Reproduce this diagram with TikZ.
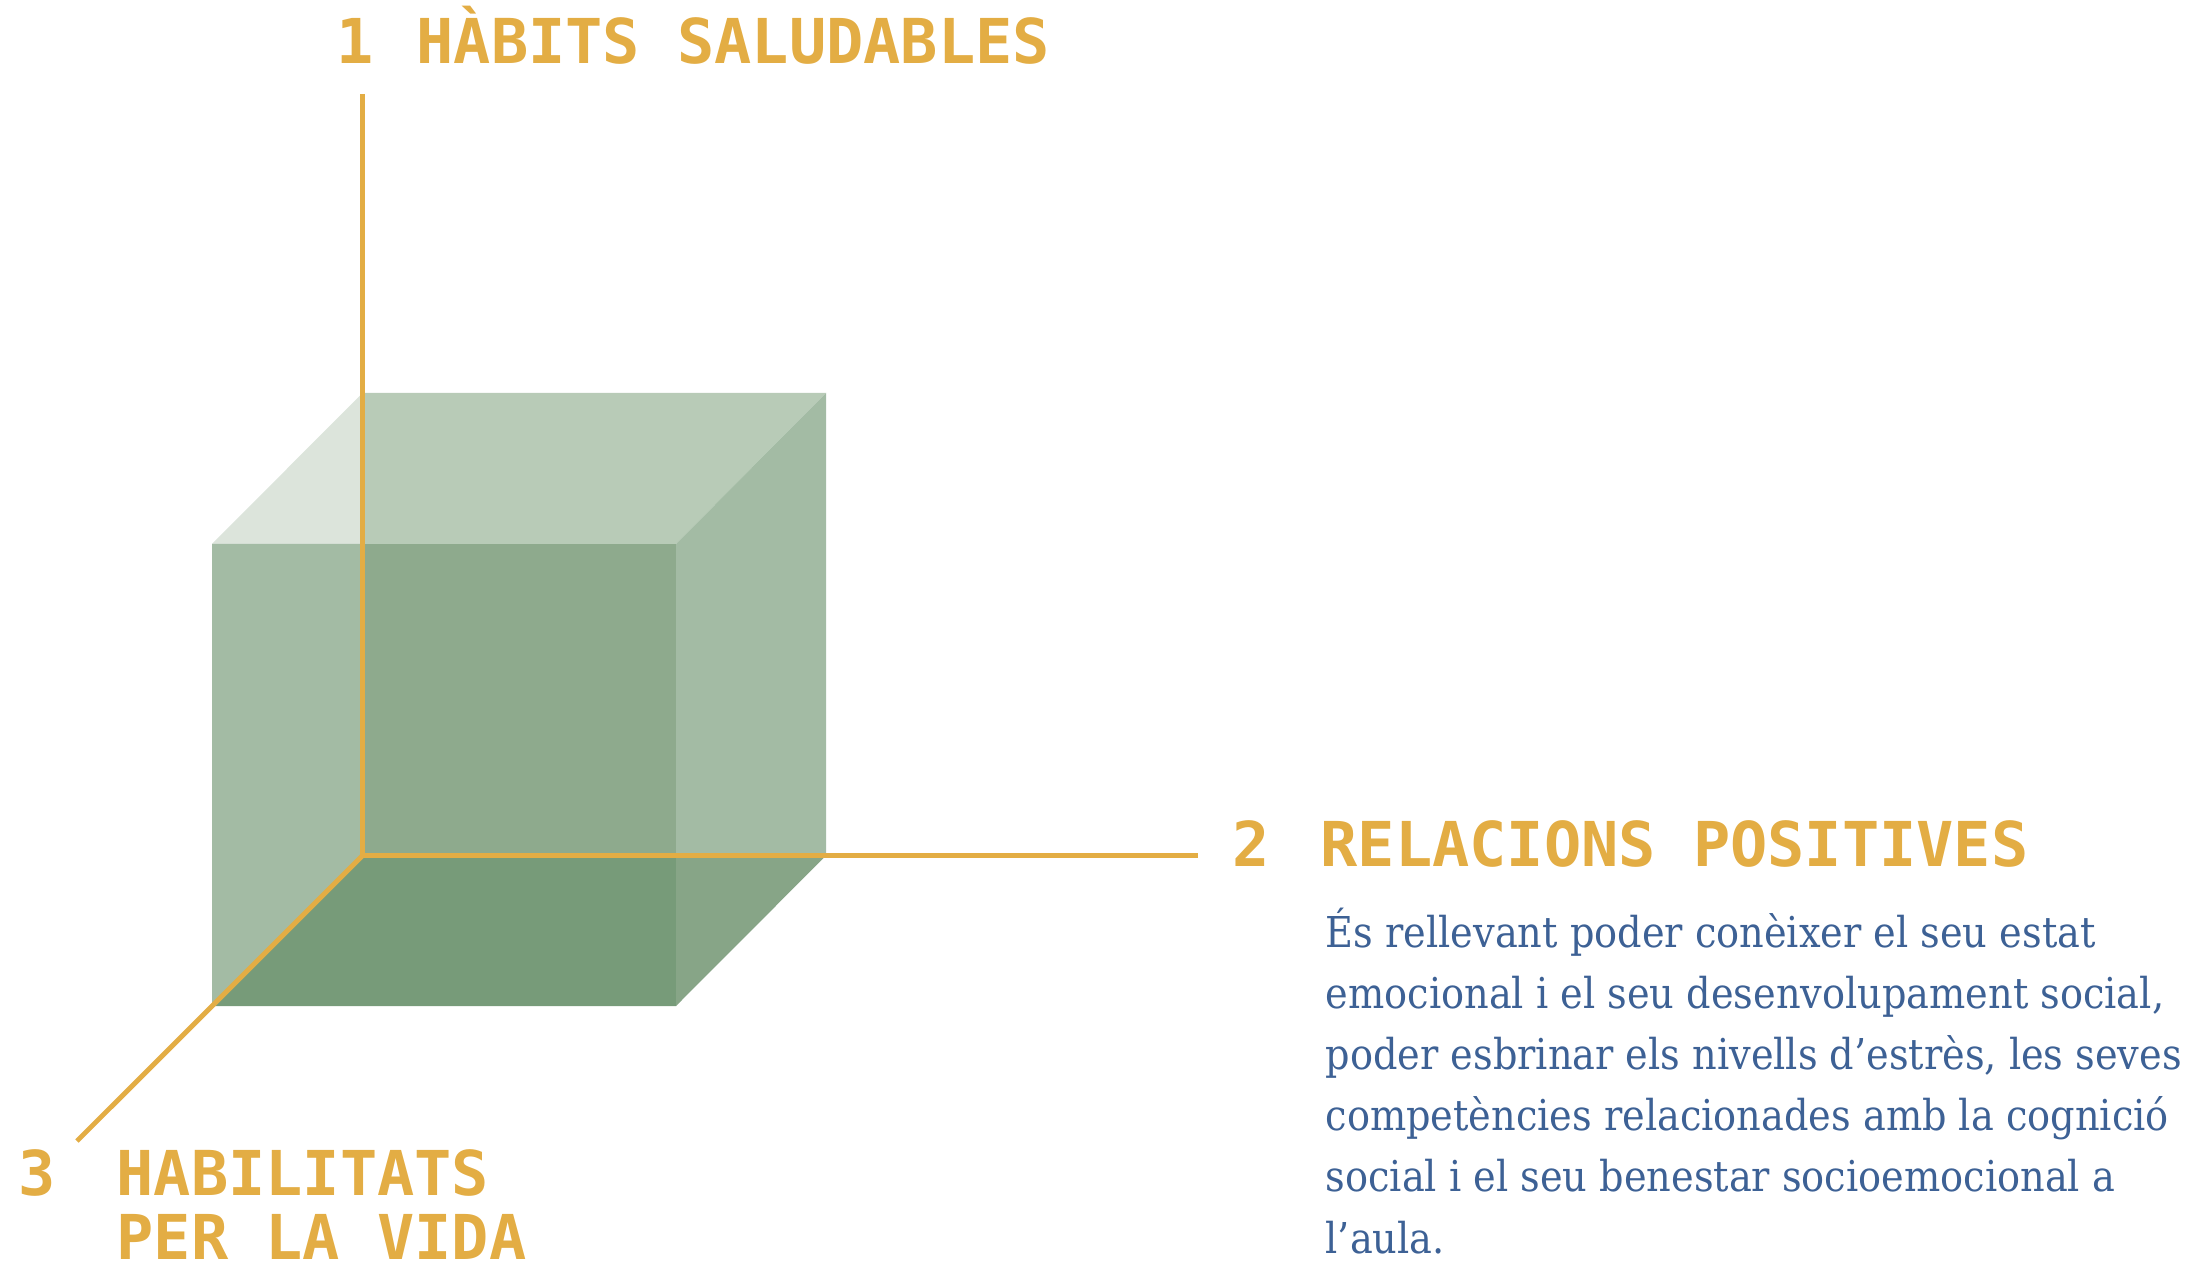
\documentclass[tikz,border=0pt]{standalone}
\usepackage{fontspec}
\usepackage{xcolor}
\usepackage{tikz}
\usetikzlibrary{positioning,calc}

\newfontfamily\headfont{DejaVu Sans Mono}
\newfontfamily\bodyfont{DejaVu Serif Condensed}

\definecolor{ochre}{HTML}{E3AD44}
\definecolor{bodyblue}{HTML}{3D6195}
\definecolor{topL}{HTML}{DCE4DB}
\definecolor{topR}{HTML}{B8CBB7}
\definecolor{sideG}{HTML}{A3BBA4}
\definecolor{frontG}{HTML}{8EAA8D}
\definecolor{bottomG}{HTML}{779B79}
\definecolor{bottomR}{HTML}{87A587}

\tikzset{
  axisline/.style={draw=ochre, line width=1.4pt},
  numtxt/.style={anchor=base west, inner sep=0pt, text=ochre, font=\headfont\bfseries\fontsize{17.6}{20}\selectfont},
  headtxt/.style={numtxt},
  bodytxt/.style={anchor=base west, inner sep=0pt, text=bodyblue, font=\bodyfont\fontsize{12.1}{17}\selectfont}
}

\begin{document}
\begin{tikzpicture}
    \useasboundingbox (0,0) rectangle (21.92,12.70);

    % Cube, faces seen through one another
    \fill[topL] (2.12,7.26) -- (3.625,8.77) -- (3.625,7.26) -- cycle;
    \fill[topR] (3.625,8.77) -- (8.26,8.77) -- (6.76,7.26) -- (3.625,7.26) -- cycle;
    \fill[sideG] (2.12,7.26) -- (3.625,7.26) -- (3.625,4.144) -- (2.12,2.64) -- cycle;
    \fill[frontG] (3.625,7.26) rectangle (6.76,4.144);
    \fill[sideG] (6.76,7.26) -- (8.26,8.77) -- (8.26,4.144) -- (6.76,4.144) -- cycle;
    \fill[bottomG] (2.12,2.64) -- (3.625,4.144) -- (6.76,4.144) -- (6.76,2.64) -- cycle;
    \fill[bottomR] (6.76,4.144) -- (8.26,4.144) -- (6.76,2.64) -- cycle;

    % Axes
    \coordinate (O) at (3.625,4.144);
    \coordinate (yEnd) at (3.625,11.76);
    \coordinate (xEnd) at (11.98,4.144);
    \coordinate (zEnd) at (0.77,1.29);
    \draw[axisline] (yEnd) -- (O) -- (xEnd);
    \draw[axisline] (O) -- (zEnd);

    % Axis 1
    \node[numtxt] (num1) at (3.36,12.06) {1};
    \node[headtxt] (head1) at (4.16,12.06) {HÀBITS SALUDABLES};

    % Axis 2
    \node[numtxt] (num2) at (12.32,4.04) {2};
    \node[headtxt] (head2) at (13.20,4.04) {RELACIONS POSITIVES};
    \foreach \txt [count=\i] in {{És rellevant poder conèixer el seu estat},
        {emocional i el seu desenvolupament social,},
        {poder esbrinar els nivells d’estrès, les seves},
        {competències relacionades amb la cognició},
        {social i el seu benestar socioemocional a},
        {l’aula.}}
        \node[bodytxt] (para\i) at (13.25,{3.23-(\i-1)*0.612}) {\txt};

    % Axis 3
    \node[numtxt] (num3) at (0.18,0.75) {3};
    \node[headtxt] (head3) at (1.16,0.75) {HABILITATS};
    \node[headtxt] (head3b) at (1.16,0.11) {PER LA VIDA};
\end{tikzpicture}
\end{document}
